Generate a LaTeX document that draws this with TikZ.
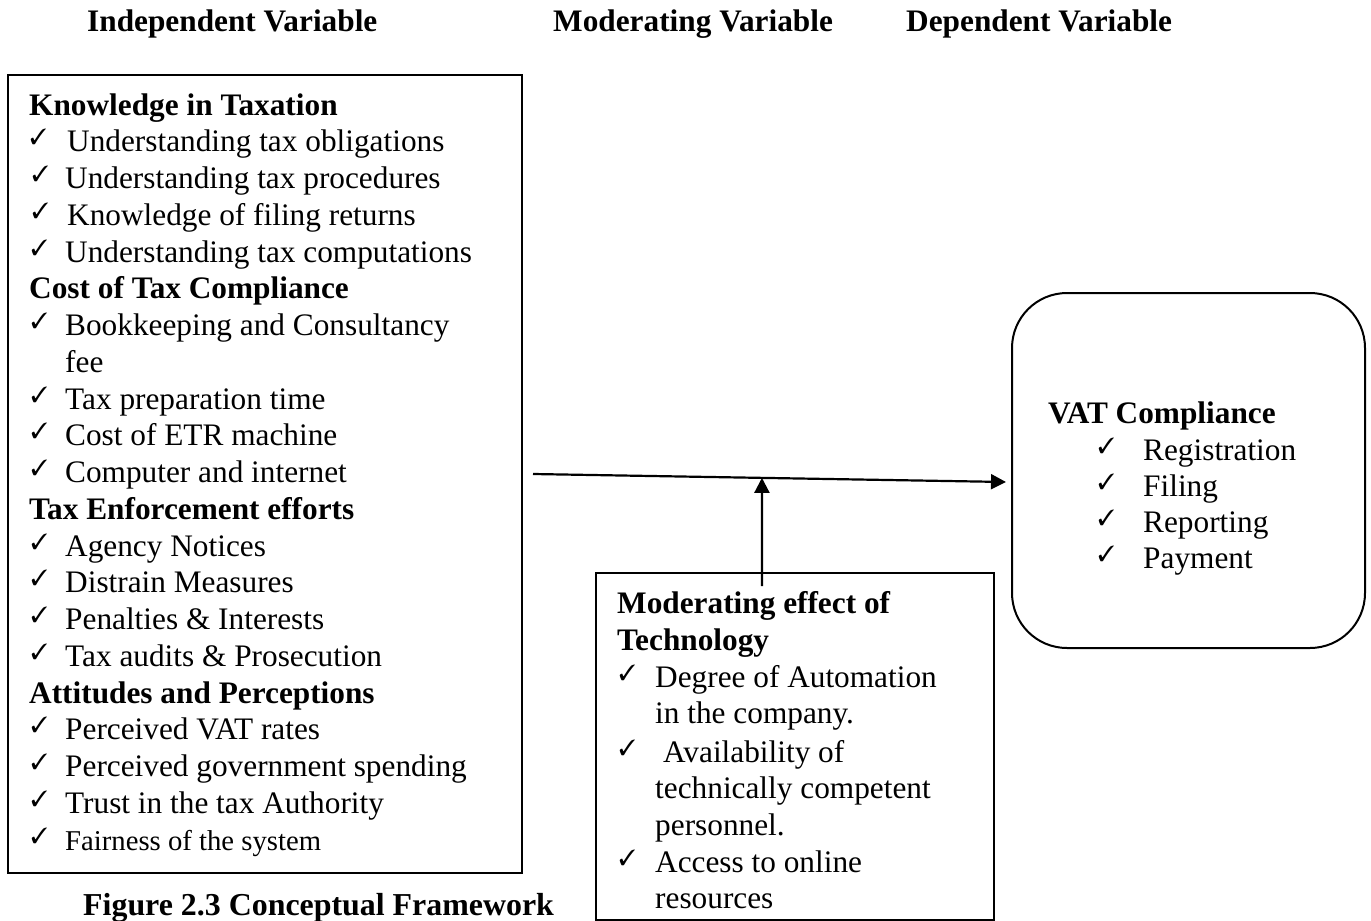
\documentclass[tikz,border=0pt]{standalone}
\usepackage{fontspec}
\usepackage{pifont}
\setmainfont{Liberation Serif}
\usetikzlibrary{arrows.meta,calc}
\newcommand{\bodyfont}{\fontsize{31.3}{36.75}\selectfont}
\newcommand{\smallbody}{\fontsize{28.7}{36.75}\selectfont}
\newcommand{\ck}{\raisebox{7pt}{\fontsize{22}{22}\selectfont\ding{51}}}
\newcommand{\ckl}[1]{\makebox[#1][l]{\ck}}
\begin{document}
\begin{tikzpicture}[x=1pt,y=-1pt,
  boxstyle/.style={draw, line width=2pt, inner sep=0pt},
  txt/.style={anchor=base west, inner sep=0pt, font=\bodyfont},
  hdtxt/.style={txt, font=\bodyfont\bfseries},
  arr/.style={line width=2.2pt, -{Triangle[length=15pt,width=15pt]}}]
\useasboundingbox (0,0) rectangle (1371,921);

% headers
\node[hdtxt] (hIV) at (87,31) {Independent Variable};
\node[hdtxt] (hMV) at (553,31) {Moderating Variable};
\node[hdtxt] (hDV) at (906,31) {Dependent Variable};

% boxes
\node[boxstyle, minimum width=514pt, minimum height=798pt] (iv) at (265,474) {};
\node[boxstyle, line width=1.6pt, minimum width=398pt, minimum height=347pt] (mv) at (795,746.5) {};
\node[boxstyle, rounded corners=55pt, minimum width=353pt, minimum height=355pt] (vat) at (1188.5,470.5) {};

% independent variable text
\node[hdtxt] (k0) at (29,115) {Knowledge in Taxation};
\node[txt] (k1) at (30,151.75) {\ckl{37pt}Understanding tax obligations};
\node[txt] (k2) at (32,188.5) {\ckl{33pt}Understanding tax procedures};
\node[txt] (k3) at (32,225.25) {\ckl{35pt}Knowledge of filing returns};
\node[txt] (k4) at (31,262) {\ckl{34pt}Understanding tax computations};
\node[hdtxt] (c0) at (29,298.75) {Cost of Tax Compliance};
\node[txt] (c1) at (31,335.5) {\ckl{34pt}Bookkeeping and Consultancy};
\node[txt] (c1b) at (65,372.25) {fee};
\node[txt] (c2) at (31,409) {\ckl{34pt}Tax preparation time};
\node[txt] (c3) at (31,445.75) {\ckl{34pt}Cost of ETR machine};
\node[txt] (c4) at (31,482.5) {\ckl{34pt}Computer and internet};
\node[hdtxt] (e0) at (29,519.25) {Tax Enforcement efforts};
\node[txt] (e1) at (31,556) {\ckl{34pt}Agency Notices};
\node[txt] (e2) at (31,592.75) {\ckl{34pt}Distrain Measures};
\node[txt] (e3) at (31,629.5) {\ckl{34pt}Penalties \& Interests};
\node[txt] (e4) at (31,666.25) {\ckl{34pt}Tax audits \& Prosecution};
\node[hdtxt] (a0) at (29,703) {Attitudes and Perceptions};
\node[txt] (a1) at (31,739.75) {\ckl{34pt}Perceived VAT rates};
\node[txt] (a2) at (31,776.5) {\ckl{34pt}Perceived government spending};
\node[txt] (a3) at (31,813.25) {\ckl{34pt}Trust in the tax Authority};
\node[txt] (a4) at (31,850) {\ckl{34pt}\smallbody Fairness of the system};

% moderating text
\node[hdtxt] (m0) at (617,613) {Moderating effect of};
\node[hdtxt] (m0b) at (617,650) {Technology};
\node[txt] (m1) at (619,687) {\ckl{36pt}Degree of Automation};
\node[txt] (m1b) at (655,723.5) {in the company.};
\node[txt] (m2) at (619,762) {\ckl{44pt}Availability of};
\node[txt] (m2b) at (655,798) {technically competent};
\node[txt] (m2c) at (655,835) {personnel.};
\node[txt] (m3) at (619,872) {\ckl{36pt}Access to online};
\node[txt] (m3b) at (655,908) {resources};

% VAT text
\node[hdtxt] (v0) at (1048,423) {VAT Compliance};
\node[txt] (v1) at (1098,460) {\ckl{45pt}Registration};
\node[txt] (v2) at (1098,496) {\ckl{45pt}Filing};
\node[txt] (v3) at (1098,532) {\ckl{45pt}Reporting};
\node[txt] (v4) at (1098,568) {\ckl{45pt}Payment};

% caption
\node[txt, font=\fontsize{31.9}{36}\selectfont\bfseries] (caption) at (83,915) {Figure 2.3 Conceptual Framework};

% connectors
\coordinate (hs) at ([xshift=10pt]iv.east);
\coordinate (he) at ([xshift=-5pt,yshift=-11.5pt]vat.west);
\draw[arr] (hs) -- (he);
\coordinate (meet) at ($(hs)!0.484!(he)$);
\draw[arr] ([xshift=-33pt,yshift=-14pt]mv.north) -- (meet);
\end{tikzpicture}
\end{document}
